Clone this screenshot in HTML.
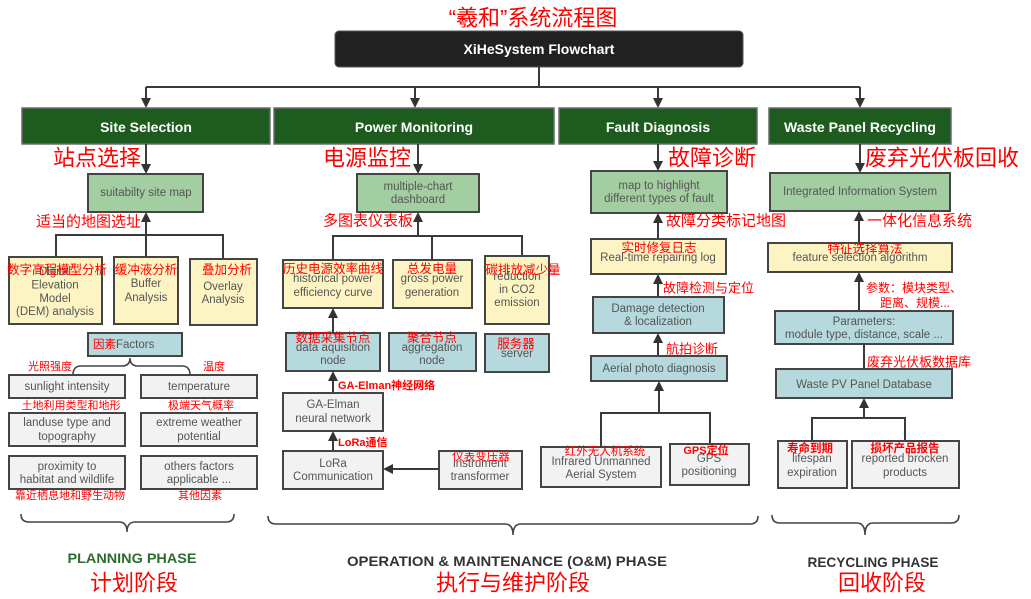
<!DOCTYPE html>
<html><head><meta charset="utf-8">
<style>
html,body{margin:0;padding:0;background:#fff;}
svg{display:block;}
.bx{font-family:"Liberation Sans","Noto Sans CJK SC",sans-serif;font-size:11.5px;fill:#555;text-anchor:middle;dominant-baseline:central;}
.hd{font-family:"Liberation Sans",sans-serif;font-size:14px;font-weight:bold;fill:#fff;text-anchor:middle;dominant-baseline:central;}
.r{font-family:"Liberation Sans","Noto Sans CJK SC",sans-serif;fill:#ff0000;dominant-baseline:central;}
.rc{text-anchor:middle;}
.ph{font-family:"Liberation Sans",sans-serif;font-size:14px;font-weight:bold;text-anchor:middle;dominant-baseline:central;}
.ln{stroke:#3a3a3a;stroke-width:2;fill:none;}
.ah{fill:#333;}
.br{stroke:#444;stroke-width:1.6;fill:none;}
.g{fill:#a3cea2;stroke:#444;stroke-width:2;}
.y{fill:#fdf4c3;stroke:#444;stroke-width:2;}
.b{fill:#b5d9dc;stroke:#444;stroke-width:2;}
.w{fill:#f2f2f2;stroke:#444;stroke-width:2;}
.dg{fill:#1d5b1f;stroke:#6b6b6b;stroke-width:1.5;}
</style></head>
<body>
<svg width="1031" height="599" viewBox="0 0 1031 599" xmlns="http://www.w3.org/2000/svg">
<!-- Title -->
<text class="r rc" x="533" y="18" font-size="22">“羲和”系统流程图</text>
<rect x="335" y="31" width="408" height="36" rx="4" fill="#212121" stroke="#555" stroke-width="1"/>
<text class="hd" x="539" y="49" font-size="15.5">XiHeSystem Flowchart</text>

<!-- top connectors -->
<path class="ln" d="M539 67 V87 M146 87 H860 M146 87 V99 M415 87 V99 M658 87 V99 M860 87 V99"/>
<polygon class="ah" points="141,98 151,98 146,108"/>
<polygon class="ah" points="410,98 420,98 415,108"/>
<polygon class="ah" points="653,98 663,98 658,108"/>
<polygon class="ah" points="855,98 865,98 860,108"/>

<!-- green headers -->
<rect class="dg" x="22" y="108" width="248" height="36"/>
<rect class="dg" x="274" y="108" width="280" height="36"/>
<rect class="dg" x="559" y="108" width="198" height="36"/>
<rect class="dg" x="769" y="108" width="182" height="36"/>
<text class="hd" x="146" y="127">Site Selection</text>
<text class="hd" x="414" y="127">Power Monitoring</text>
<text class="hd" x="658" y="127">Fault Diagnosis</text>
<text class="hd" x="860" y="127">Waste Panel Recycling</text>

<!-- arrows down from headers -->
<path class="ln" d="M146 144 V165 M418 144 V165 M658 144 V162 M860 144 V164"/>
<polygon class="ah" points="141,164 151,164 146,174"/>
<polygon class="ah" points="413,164 423,164 418,174"/>
<polygon class="ah" points="653,161 663,161 658,171"/>
<polygon class="ah" points="855,163 865,163 860,173"/>

<text class="r" x="53" y="158" font-size="22">站点选择</text>
<text class="r" x="323" y="158" font-size="22">电源监控</text>
<text class="r" x="668" y="158" font-size="22">故障诊断</text>
<text class="r" x="865" y="158" font-size="22">废弃光伏板回收</text>

<!-- level 2 boxes -->
<rect class="g" x="88" y="174" width="115" height="38"/>
<text class="bx" x="146" y="193">suitabilty site map</text>
<rect class="g" x="357" y="174" width="122" height="38"/>
<text class="bx" x="418" y="187">multiple-chart</text>
<text class="bx" x="418" y="200">dashboard</text>
<rect class="g" x="591" y="171" width="136" height="42"/>
<text class="bx" x="659" y="186">map to highlight</text>
<text class="bx" x="659" y="199">different types of fault</text>
<rect class="g" x="770" y="173" width="180" height="38"/>
<text class="bx" x="860" y="192">Integrated Information System</text>

<!-- ===== SITE SELECTION subtree ===== -->
<path class="ln" d="M146 257 V221 M56 257 V235 H223 V259"/>
<polygon class="ah" points="141,222 151,222 146,212"/>
<text class="r" x="36" y="222" font-size="15">适当的地图选址</text>

<rect class="y" x="9" y="257" width="93" height="67"/>
<text class="bx" x="55" y="272">Digital</text>
<text class="bx" x="55" y="285.5">Elevation</text>
<text class="bx" x="55" y="299">Model</text>
<text class="bx" x="55" y="312">(DEM) analysis</text>
<rect class="y" x="114" y="257" width="64" height="67"/>
<text class="bx" x="146" y="284">Buffer</text>
<text class="bx" x="146" y="298">Analysis</text>
<rect class="y" x="190" y="259" width="67" height="66"/>
<text class="bx" x="223" y="287">Overlay</text>
<text class="bx" x="223" y="300">Analysis</text>
<text class="r rc" x="57" y="270" font-size="12.5">数字高程模型分析</text>
<text class="r rc" x="146" y="270" font-size="12.5">缓冲液分析</text>
<text class="r rc" x="227" y="270" font-size="12.5">叠加分析</text>

<rect class="b" x="88" y="333" width="94" height="23"/>
<text class="bx" x="93" y="345" font-size="12" style="text-anchor:start"><tspan fill="#ff0000">因素</tspan>Factors</text>

<path class="br" d="M73 375 Q73 366 81 366 L122 366 Q130 366 130 358 Q130 366 138 366 L182 366 Q190 366 190 375"/>
<text class="r rc" x="50" y="367" font-size="11">光照强度</text>
<text class="r" x="203" y="367" font-size="11">温度</text>

<rect class="w" x="9" y="375" width="116" height="23"/>
<text class="bx" x="67" y="387">sunlight intensity</text>
<rect class="w" x="141" y="375" width="116" height="23"/>
<text class="bx" x="199" y="387">temperature</text>
<rect class="w" x="9" y="413" width="116" height="33"/>
<text class="bx" x="67" y="423">landuse type and</text>
<text class="bx" x="67" y="437">topography</text>
<rect class="w" x="141" y="413" width="116" height="33"/>
<text class="bx" x="199" y="423">extreme weather</text>
<text class="bx" x="199" y="437">potential</text>
<rect class="w" x="9" y="456" width="116" height="33"/>
<text class="bx" x="67" y="467">proximity to</text>
<text class="bx" x="67" y="480">habitat and wildlife</text>
<rect class="w" x="141" y="456" width="116" height="33"/>
<text class="bx" x="199" y="467">others factors</text>
<text class="bx" x="199" y="480">applicable ...</text>
<text class="r rc" x="71" y="406" font-size="11">土地利用类型和地形</text>
<text class="r rc" x="201" y="406" font-size="11">极端天气概率</text>
<text class="r rc" x="70" y="496" font-size="11">靠近栖息地和野生动物</text>
<text class="r rc" x="200" y="496" font-size="11">其他因素</text>

<path class="br" d="M21 514 Q21 522 29 522 L119 522 Q127 522 127 532 Q127 522 135 522 L226 522 Q234 522 234 514"/>
<text class="ph" x="132" y="558" fill="#2e6b30" textLength="129" lengthAdjust="spacingAndGlyphs">PLANNING PHASE</text>
<text class="r rc" x="134" y="583" font-size="22">计划阶段</text>

<!-- ===== POWER MONITORING subtree ===== -->
<path class="ln" d="M418 236 V221 M333 260 V236 H522 V256 M432 236 V260"/>
<polygon class="ah" points="413,222 423,222 418,212"/>
<text class="r" x="323" y="221" font-size="15">多图表仪表板</text>

<rect class="y" x="283" y="260" width="100" height="48"/>
<text class="bx" x="333" y="279">historical power</text>
<text class="bx" x="333" y="293">efficiency curve</text>
<rect class="y" x="393" y="260" width="79" height="48"/>
<text class="bx" x="432" y="279">gross power</text>
<text class="bx" x="432" y="293">generation</text>
<rect class="y" x="485" y="256" width="64" height="68"/>
<text class="bx" x="517" y="277">reduction</text>
<text class="bx" x="517" y="290">in CO2</text>
<text class="bx" x="517" y="303">emission</text>
<text class="r rc" x="333" y="269" font-size="12.5">历史电源效率曲线</text>
<text class="r rc" x="432" y="269" font-size="12.5">总发电量</text>
<text class="r rc" x="523" y="270" font-size="12.5">碳排放减少量</text>

<path class="ln" d="M333 333 V317"/>
<polygon class="ah" points="328,318 338,318 333,308"/>

<rect class="b" x="286" y="333" width="94" height="38"/>
<text class="bx" x="333" y="348">data aquisition</text>
<text class="bx" x="333" y="361">node</text>
<rect class="b" x="389" y="333" width="87" height="38"/>
<text class="bx" x="432" y="348">aggregation</text>
<text class="bx" x="432" y="361">node</text>
<rect class="b" x="485" y="334" width="64" height="38"/>
<text class="bx" x="517" y="354">server</text>
<text class="r rc" x="333" y="338" font-size="12.5">数据采集节点</text>
<text class="r rc" x="432" y="338" font-size="12.5">聚合节点</text>
<text class="r rc" x="516" y="344" font-size="12.5">服务器</text>

<path class="ln" d="M333 393 V380"/>
<polygon class="ah" points="328,381 338,381 333,371"/>
<text class="r" x="338" y="386" font-size="11" font-weight="bold">GA-Elman神经网络</text>
<rect class="w" x="283" y="393" width="100" height="38"/>
<text class="bx" x="333" y="405">GA-Elman</text>
<text class="bx" x="333" y="419">neural network</text>

<path class="ln" d="M333 451 V440"/>
<polygon class="ah" points="328,441 338,441 333,431"/>
<text class="r" x="338" y="443" font-size="11" font-weight="bold">LoRa通信</text>
<rect class="w" x="283" y="451" width="100" height="38"/>
<text class="bx" x="333" y="464">LoRa</text>
<text class="bx" x="333" y="477">Communication</text>
<rect class="w" x="439" y="451" width="83" height="38"/>
<text class="bx" x="480" y="464">instrument</text>
<text class="bx" x="480" y="477">transformer</text>
<text class="r rc" x="481" y="457" font-size="11.5">仪表变压器</text>
<path class="ln" d="M439 469 H392"/>
<polygon class="ah" points="393,464 393,474 383,469"/>

<path class="br" d="M268 516 Q268 524 276 524 L505 524 Q513 524 513 535 Q513 524 521 524 L750 524 Q758 524 758 516"/>
<text class="ph" x="507" y="561" fill="#333" textLength="320" lengthAdjust="spacingAndGlyphs">OPERATION &amp; MAINTENANCE (O&amp;M) PHASE</text>
<text class="r rc" x="513" y="583" font-size="22">执行与维护阶段</text>

<!-- ===== FAULT DIAGNOSIS subtree ===== -->
<path class="ln" d="M658 239 V222"/>
<polygon class="ah" points="653,223 663,223 658,213"/>
<text class="r" x="666" y="221" font-size="15">故障分类标记地图</text>
<rect class="y" x="591" y="239" width="135" height="35"/>
<text class="bx" x="658" y="258">Real-time repairing log</text>
<text class="r rc" x="659" y="248" font-size="12.5">实时修复日志</text>

<path class="ln" d="M658 297 V283"/>
<polygon class="ah" points="653,284 663,284 658,274"/>
<text class="r" x="663" y="288" font-size="13">故障检测与定位</text>
<rect class="b" x="593" y="297" width="131" height="36"/>
<text class="bx" x="658" y="309">Damage detection</text>
<text class="bx" x="658" y="322">&amp; localization</text>

<path class="ln" d="M658 356 V342"/>
<polygon class="ah" points="653,343 663,343 658,333"/>
<text class="r" x="666" y="349" font-size="13">航拍诊断</text>
<rect class="b" x="591" y="356" width="136" height="25"/>
<text class="bx" x="659" y="369">Aerial photo diagnosis</text>

<path class="ln" d="M659 413 V390 M601 447 V413 H710 V444"/>
<polygon class="ah" points="654,391 664,391 659,381"/>
<rect class="w" x="541" y="447" width="120" height="40"/>
<text class="bx" x="601" y="462">Infrared Unmanned</text>
<text class="bx" x="601" y="475">Aerial System</text>
<rect class="w" x="670" y="444" width="79" height="41"/>
<text class="bx" x="709" y="459">GPS</text>
<text class="bx" x="709" y="472">positioning</text>
<text class="r rc" x="605" y="452" font-size="11.5">红外无人机系统</text>
<text class="r rc" x="706" y="451" font-size="11" font-weight="bold">GPS定位</text>

<!-- ===== RECYCLING subtree ===== -->
<path class="ln" d="M859 243 V220"/>
<polygon class="ah" points="854,221 864,221 859,211"/>
<text class="r" x="867" y="221" font-size="15">一体化信息系统</text>
<rect class="y" x="768" y="243" width="184" height="29"/>
<text class="bx" x="860" y="258">feature selection algorithm</text>
<text class="r rc" x="865" y="249" font-size="12.5">特征选择算法</text>

<path class="ln" d="M859 311 V281"/>
<polygon class="ah" points="854,282 864,282 859,272"/>
<text class="r" x="866" y="288" font-size="12">参数：模块类型、</text>
<text class="r" x="880" y="303" font-size="12">距离、规模...</text>
<rect class="b" x="775" y="311" width="178" height="33"/>
<text class="bx" x="864" y="322">Parameters:</text>
<text class="bx" x="864" y="335">module type, distance, scale ...</text>

<path class="ln" d="M864 344 V369"/>
<text class="r" x="867" y="362" font-size="13">废弃光伏板数据库</text>
<rect class="b" x="776" y="369" width="176" height="29"/>
<text class="bx" x="864" y="385">Waste PV Panel Database</text>

<path class="ln" d="M864 418 V407 M812 441 V418 H905 V441"/>
<polygon class="ah" points="859,408 869,408 864,398"/>
<rect class="w" x="778" y="441" width="69" height="47"/>
<text class="bx" x="812" y="459">lifespan</text>
<text class="bx" x="812" y="473">expiration</text>
<rect class="w" x="852" y="441" width="107" height="47"/>
<text class="bx" x="905" y="459">reported brocken</text>
<text class="bx" x="905" y="473">products</text>
<text class="r rc" x="810" y="449" font-size="11.5" font-weight="bold">寿命到期</text>
<text class="r rc" x="905" y="449" font-size="11.5" font-weight="bold">损坏产品报告</text>

<path class="br" d="M772 515 Q772 523 780 523 L857 523 Q865 523 865 535 Q865 523 873 523 L951 523 Q959 523 959 515"/>
<text class="ph" x="873" y="562" fill="#333" textLength="131" lengthAdjust="spacingAndGlyphs">RECYCLING PHASE</text>
<text class="r rc" x="882" y="583" font-size="22">回收阶段</text>
</svg>
</body></html>
